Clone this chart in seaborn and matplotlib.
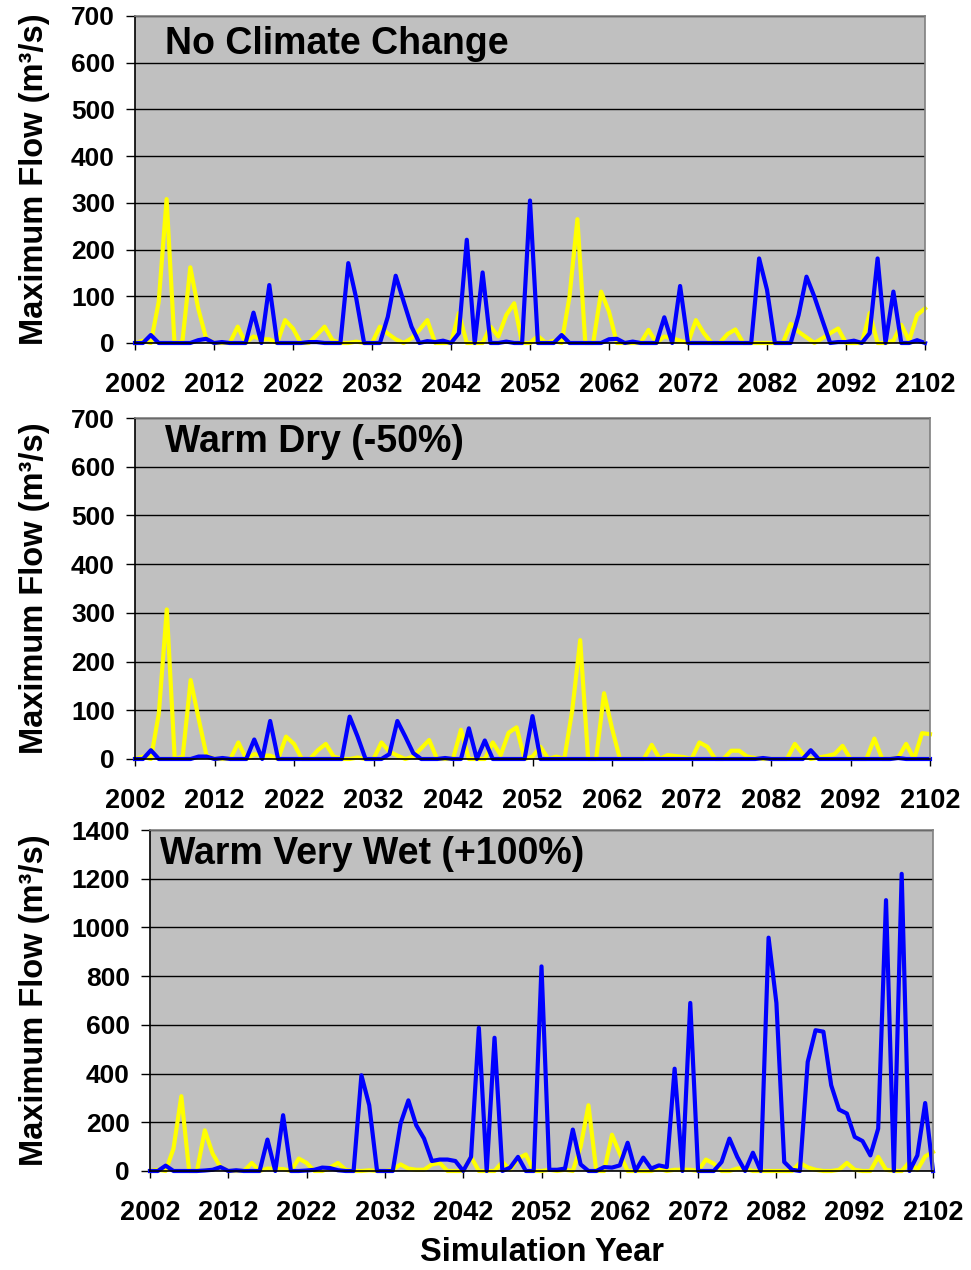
import numpy as np
import pandas as pd
import matplotlib
matplotlib.use('Agg')
import matplotlib.pyplot as plt
import seaborn as sns

# simulation years, one value per year
years = list(range(2002, 2103))

# panel 1 - no climate change (yellow = historical, blue = scenario)
nocc_base = [0, 5, 0, 88, 308, 0, 3, 162, 74, 10,
             0, 0, 0, 35, 0, 14, 8, 8, 0, 49,
             31, 0, 0, 17, 35, 6, 0, 0, 3, 0,
             0, 35, 20, 8, 0, 10, 28, 49, 0, 0,
             0, 64, 0, 0, 0, 35, 14, 60, 85, 0,
             0, 15, 0, 5, 0, 99, 265, 0, 0, 110,
             67, 0, 0, 0, 0, 28, 0, 14, 10, 5,
             0, 49, 21, 0, 0, 19, 29, 0, 0, 0,
             0, 0, 0, 41, 24, 12, 0, 10, 21, 31,
             0, 0, 0, 64, 0, 0, 5, 39, 5, 60,
             74]
nocc_scen = [0, 0, 17, 0, 0, 0, 0, 0, 6, 9,
             0, 2, 0, 0, 0, 65, 0, 124, 0, 0,
             0, 0, 2, 2, 0, 0, 0, 171, 96, 0,
             0, 0, 56, 144, 89, 35, 0, 4, 2, 5,
             0, 21, 221, 0, 151, 0, 0, 3, 0, 0,
             305, 0, 0, 0, 17, 0, 0, 0, 0, 0,
             8, 9, 0, 3, 0, 0, 0, 55, 0, 122,
             0, 0, 0, 0, 0, 0, 0, 0, 0, 181,
             114, 0, 0, 0, 60, 142, 99, 49, 0, 2,
             2, 5, 0, 21, 181, 0, 110, 0, 0, 6,
             0]

# panel 2 - warm dry (-50%)
dry_base = [0, 5, 0, 94, 307, 0, 5, 162, 83, 7,
            0, 0, 0, 34, 0, 10, 7, 7, 0, 46,
            31, 0, 0, 18, 31, 5, 0, 0, 3, 0,
            0, 34, 15, 7, 0, 5, 22, 39, 0, 0,
            0, 60, 0, 0, 0, 34, 8, 54, 65, 0,
            5, 25, 0, 5, 0, 100, 244, 0, 0, 135,
            63, 0, 0, 0, 0, 29, 0, 8, 6, 4,
            0, 34, 25, 0, 0, 17, 17, 5, 2, 0,
            0, 0, 0, 31, 10, 0, 3, 6, 10, 27,
            0, 0, 0, 42, 0, 0, 3, 31, 0, 53,
            51]
dry_scen = [0, 0, 18, 0, 0, 0, 0, 0, 5, 5,
            0, 2, 0, 0, 0, 40, 0, 78, 0, 0,
            0, 0, 0, 0, 0, 0, 0, 87, 46, 0,
            0, 0, 10, 78, 46, 12, 0, 0, 0, 2,
            0, 0, 63, 0, 38, 0, 0, 0, 0, 0,
            88, 0, 0, 0, 0, 0, 0, 0, 0, 0,
            0, 0, 0, 0, 0, 0, 0, 0, 0, 0,
            0, 0, 0, 0, 0, 0, 0, 0, 0, 2,
            0, 0, 0, 0, 0, 18, 0, 0, 0, 0,
            0, 0, 0, 0, 0, 0, 2, 0, 0, 0,
            0]

# panel 3 - warm very wet (+100%)
wet_base = [0, 5, 0, 92, 307, 0, 0, 167, 71, 16,
            0, 0, 0, 33, 0, 10, 8, 8, 0, 51,
            33, 0, 0, 14, 33, 5, 0, 0, 3, 0,
            0, 5, 27, 10, 5, 5, 27, 33, 0, 0,
            0, 58, 0, 0, 0, 37, 5, 51, 68, 0,
            0, 5, 0, 5, 0, 100, 270, 0, 0, 149,
            71, 0, 0, 0, 0, 10, 0, 5, 5, 5,
            0, 47, 30, 0, 0, 10, 10, 0, 0, 0,
            0, 0, 0, 33, 15, 5, 0, 0, 5, 33,
            5, 0, 0, 58, 5, 0, 0, 37, 5, 60,
            78]
wet_scen = [0, 0, 22, 0, 0, 0, 0, 2, 5, 16,
            0, 3, 0, 0, 0, 129, 0, 229, 0, 0,
            2, 5, 14, 12, 3, 0, 0, 393, 270, 0,
            0, 0, 195, 290, 188, 133, 41, 47, 47, 41,
            0, 58, 588, 0, 547, 0, 14, 58, 0, 0,
            840, 5, 5, 10, 170, 27, 0, 0, 16, 14,
            23, 116, 0, 55, 10, 23, 16, 420, 0, 690,
            0, 0, 0, 37, 133, 58, 0, 75, 0, 958,
            690, 37, 5, 0, 448, 578, 572, 352, 252, 236,
            140, 123, 64, 174, 1112, 0, 1220, 0, 64, 279,
            0]

titles = ['No Climate Change', 'Warm Dry (-50%)', 'Warm Very Wet (+100%)']

plt.rcParams['font.family'] = ['Liberation Sans', 'DejaVu Sans']
plt.rcParams['font.weight'] = 'bold'

W, H = 971, 1270
fig = plt.figure(figsize=(W / 100, H / 100), dpi=100)


def add_ax(left, top, right, bottom):
    return fig.add_axes([left / W, 1 - bottom / H, (right - left) / W, (bottom - top) / H])


def draw_panel(ax, base, scen, title, ymax, ystep, tx, ty):
    df = pd.DataFrame({'year': years, 'base': base, 'scen': scen})
    sns.lineplot(data=df, x='year', y='base', ax=ax, color='#FFFF00', lw=3.0, clip_on=False)
    sns.lineplot(data=df, x='year', y='scen', ax=ax, color='#0000FF', lw=3.0, clip_on=False)
    ax.set_facecolor('#C0C0C0')
    ax.set_xlim(2002, 2102)
    ax.set_ylim(0, ymax)
    ax.set_xticks(range(2002, 2103, 10))
    ax.set_yticks(range(0, ymax + 1, ystep))
    ax.set_axisbelow(True)
    ax.grid(axis='y', color='black', lw=1.0)
    ax.grid(axis='x', visible=False)
    for s in ['left', 'bottom']:
        ax.spines[s].set_color('black')
        ax.spines[s].set_linewidth(1.2)
    for s in ['top', 'right']:
        ax.spines[s].set_color('#808080')
        ax.spines[s].set_linewidth(1.2)
    ax.tick_params(axis='y', direction='out', length=6.5, width=1, labelsize=19, pad=8)
    ax.tick_params(axis='x', direction='out', length=5, width=1, labelsize=19.5, pad=16)
    ax.set_xlabel('')
    ax.set_ylabel('Maximum Flow (m³/s)', fontsize=23.5, fontweight='bold')
    ax.text(tx, ty, title, transform=ax.transAxes, fontsize=27, fontweight='bold',
            ha='left', va='center')


ax1 = add_ax(135, 16, 925, 343)
ax2 = add_ax(135, 418, 930, 759)
ax3 = add_ax(150, 830, 933, 1171)

draw_panel(ax1, nocc_base, nocc_scen, titles[0], 700, 100, 0.038, 0.915)
draw_panel(ax2, dry_base, dry_scen, titles[1], 700, 100, 0.038, 0.93)
draw_panel(ax3, wet_base, wet_scen, titles[2], 1400, 200, 0.013, 0.93)

# line up the y labels at the same figure x position
for ax, left, right in [(ax1, 135, 925), (ax2, 135, 930), (ax3, 150, 933)]:
    ax.yaxis.set_label_coords((50 - left) / (right - left), 0.5)

ax3.set_xlabel('Simulation Year', fontsize=23.5, fontweight='bold', labelpad=8)

fig.savefig('out.png', dpi=100)
